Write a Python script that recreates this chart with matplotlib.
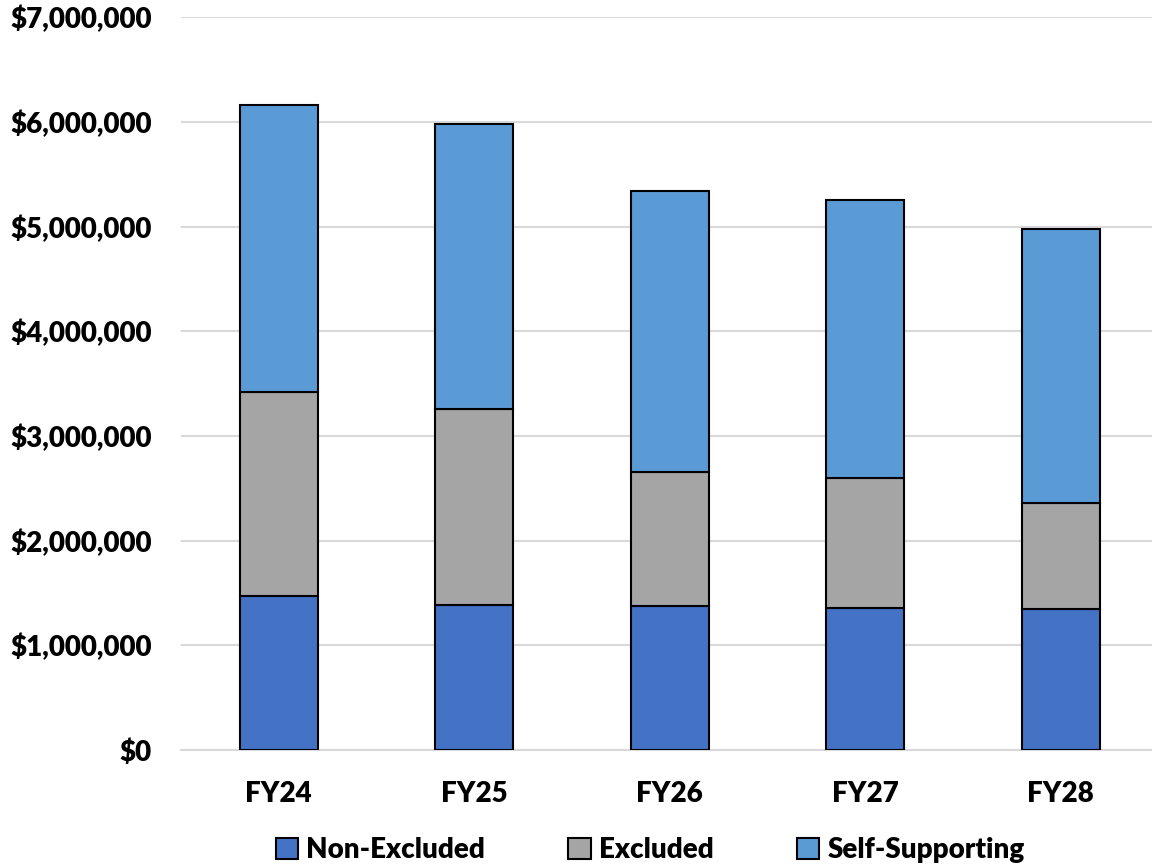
import matplotlib.pyplot as plt
from matplotlib.ticker import FuncFormatter
import numpy as np

# Chart data (dollars)
years = ["FY24", "FY25", "FY26", "FY27", "FY28"]
non_excluded = [1470000, 1382000, 1372000, 1353000, 1343000]
excluded = [1947000, 1877000, 1282000, 1250000, 1015000]
self_supporting = [2745000, 2721000, 2685000, 2656000, 2624000]

plt.rcParams['font.family'] = ['Lato', 'DejaVu Sans']
plt.rcParams['font.weight'] = 'heavy'

fig = plt.figure(figsize=(11.52, 8.65), dpi=100)
ax = fig.add_axes([181 / 1152, 0.133, 977.5 / 1152, 0.847])

x = np.arange(len(years))
w = 0.4
ne = np.array(non_excluded)
ex = np.array(excluded)
ss = np.array(self_supporting)

ax.bar(x, ne, w, color='#4472C4', edgecolor='black', linewidth=1.5, label='Non-Excluded', zorder=3)
ax.bar(x, ex, w, bottom=ne, color='#A5A5A5', edgecolor='black', linewidth=1.5, label='Excluded', zorder=3)
ax.bar(x, ss, w, bottom=ne + ex, color='#5B9BD5', edgecolor='black', linewidth=1.5, label='Self-Supporting', zorder=3)

ax.set_xlim(-0.5, len(years) - 0.5)
ax.set_ylim(0, 7000000)
ax.set_yticks(np.arange(0, 7000001, 1000000))
ax.yaxis.set_major_formatter(FuncFormatter(lambda v, p: "${:,.0f}".format(v)))
ax.set_xticks(x)
ax.set_xticklabels(years)

ax.grid(axis='y', color='#D9D9D9', linewidth=1.5, zorder=0)
for s in ['top', 'right', 'left']:
    ax.spines[s].set_visible(False)
ax.spines['bottom'].set_color('#D9D9D9')
ax.spines['bottom'].set_linewidth(1.5)
ax.tick_params(axis='both', length=0, labelsize=20)
ax.tick_params(axis='y', pad=21)
ax.tick_params(axis='x', pad=22)

ax.legend(loc='upper center', bbox_to_anchor=(0.48, -0.085), ncol=3, frameon=False,
          fontsize=20, handlelength=0.8, handleheight=0.8, handletextpad=0.3,
          columnspacing=3.0)

fig.savefig("out.png", dpi=100)
